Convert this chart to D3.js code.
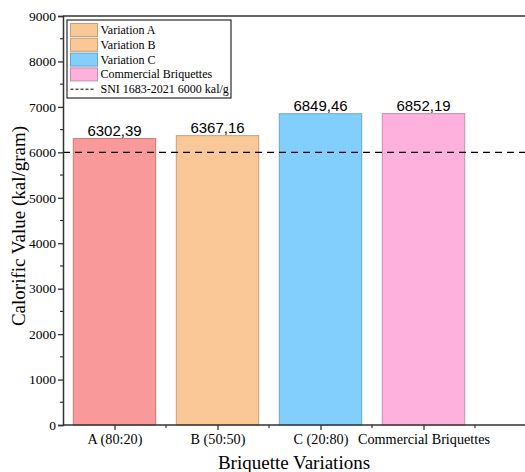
<!DOCTYPE html>
<html>
<head>
<meta charset="utf-8">
<script src="https://cdn.jsdelivr.net/npm/d3@7"></script>
<style>
  body { margin: 0; background: #fff; }
  svg { display: block; }
</style>
</head>
<body>
<figure id="bar" style="margin:0"></figure>
<script>
// chart data
const categories = ["A (80:20)", "B (50:50)", "C (20:80)", "Commercial Briquettes"];
const values = [6302.39, 6367.16, 6849.46, 6852.19];
const valueLabels = ["6302,39", "6367,16", "6849,46", "6852,19"];
const fills = ["#f99999", "#f9c896", "#82cffd", "#fdb1dc"];
const strokes = ["#c67a7a", "#c9a07a", "#6aa6cc", "#c98bae"];
const legendNames = ["Variation A", "Variation B", "Variation C", "Commercial Briquettes"];
const legendFills = ["#f9c896", "#f9c896", "#82cffd", "#fdb1dc"];
const legendStrokes = ["#c9a07a", "#c9a07a", "#6aa6cc", "#c98bae"];
const yTicks = [0, 1000, 2000, 3000, 4000, 5000, 6000, 7000, 8000, 9000];
const sniValue = 6000;
const sniLabel = "SNI 1683-2021 6000 kal/g";

const W = 525, H = 472;
const plotLeft = 63, plotTop = 16, plotBottom = 425;
const serif = "'Liberation Serif', 'Times New Roman', serif";

const svg = d3.select("figure#bar")
  .append("svg")
  .attr("width", W)
  .attr("height", H);

// x: category index positions, plot runs past the right edge
const x = d3.scaleLinear().domain([0.5, 5.5]).range([plotLeft, plotLeft + 5 * 103]);
const y = d3.scaleLinear().domain([0, 9000]).range([plotBottom, plotTop]);
const barW = 0.8 * (x(2) - x(1));

// bars
svg.selectAll("rect.bar")
  .data(values)
  .enter()
  .append("rect")
  .attr("class", "bar")
  .attr("x", (d, i) => x(i + 1) - barW / 2)
  .attr("y", d => y(d))
  .attr("width", barW)
  .attr("height", d => plotBottom - y(d))
  .attr("fill", (d, i) => fills[i])
  .attr("stroke", (d, i) => strokes[i])
  .attr("stroke-width", 1);

// value labels
svg.selectAll("text.val")
  .data(values)
  .enter()
  .append("text")
  .attr("class", "val")
  .attr("x", (d, i) => x(i + 1))
  .attr("y", d => y(d) - 3)
  .attr("text-anchor", "middle")
  .style("font-family", "'Liberation Sans', Arial, sans-serif")
  .style("font-size", "15px")
  .text((d, i) => valueLabels[i]);

// SNI reference line
svg.append("line")
  .attr("x1", plotLeft).attr("x2", W)
  .attr("y1", y(sniValue)).attr("y2", y(sniValue))
  .attr("stroke", "#000")
  .attr("stroke-width", 1.1)
  .attr("stroke-dasharray", "7,5");

// y axis
const yAxis = svg.append("g")
  .attr("transform", "translate(" + plotLeft + ",0)")
  .call(d3.axisLeft(y).tickValues(yTicks).tickSize(5).tickPadding(2).tickFormat(d3.format("d")));
yAxis.selectAll("text")
  .style("font-family", serif)
  .style("font-size", "13.5px")
  .attr("fill", "#000");
yAxis.select(".domain").attr("stroke", "#333").attr("stroke-width", 1.5);
yAxis.selectAll(".tick line").attr("stroke", "#333").attr("stroke-width", 1.3);
// minor y ticks
svg.selectAll("line.ymin")
  .data(d3.range(500, 9000, 1000))
  .enter()
  .append("line")
  .attr("x1", plotLeft - 3).attr("x2", plotLeft)
  .attr("y1", d => y(d)).attr("y2", d => y(d))
  .attr("stroke", "#333").attr("stroke-width", 1.2);

// x axis
const xAxis = svg.append("g")
  .attr("transform", "translate(0," + plotBottom + ")")
  .call(d3.axisBottom(x).tickValues([1, 2, 3, 4]).tickSize(5).tickPadding(4)
    .tickFormat((d, i) => categories[i]));
xAxis.selectAll("text")
  .style("font-family", serif)
  .style("font-size", "14.2px")
  .attr("fill", "#000");
xAxis.select(".domain").remove();
xAxis.selectAll(".tick line").attr("stroke", "#333").attr("stroke-width", 1.3);
svg.append("line")
  .attr("x1", plotLeft).attr("x2", W)
  .attr("y1", plotBottom).attr("y2", plotBottom)
  .attr("stroke", "#333").attr("stroke-width", 1.5);
// minor x ticks
svg.selectAll("line.xmin")
  .data([1.5, 2.5, 3.5, 4.5])
  .enter()
  .append("line")
  .attr("x1", d => x(d)).attr("x2", d => x(d))
  .attr("y1", plotBottom).attr("y2", plotBottom + 3)
  .attr("stroke", "#333").attr("stroke-width", 1.2);

// top frame
svg.append("line")
  .attr("x1", plotLeft).attr("x2", W)
  .attr("y1", plotTop).attr("y2", plotTop)
  .attr("stroke", "#333").attr("stroke-width", 1.5);

// axis titles
svg.append("text")
  .attr("x", (plotLeft + W) / 2)
  .attr("y", 469)
  .attr("text-anchor", "middle")
  .style("font-family", serif)
  .style("font-size", "19px")
  .text("Briquette Variations");

svg.append("text")
  .attr("transform", "translate(25,226)rotate(-90)")
  .attr("text-anchor", "middle")
  .style("font-family", serif)
  .style("font-size", "19px")
  .text("Calorific Value (kal/gram)");

// legend
const lg = svg.append("g").attr("transform", "translate(67,20)");
lg.append("rect")
  .attr("width", 164).attr("height", 78)
  .attr("fill", "#fff").attr("stroke", "#000").attr("stroke-width", 1);
const rowH = 14.8;
legendNames.forEach((name, i) => {
  lg.append("rect")
    .attr("x", 3.5).attr("y", 3.5 + i * rowH)
    .attr("width", 27).attr("height", 13)
    .attr("fill", legendFills[i]).attr("stroke", legendStrokes[i]);
  lg.append("text")
    .attr("x", 33.5).attr("y", 3.5 + i * rowH + 10.5)
    .style("font-family", serif)
    .style("font-size", "12px")
    .text(name);
});
lg.append("line")
  .attr("x1", 3.5).attr("x2", 27)
  .attr("y1", 3.5 + 4 * rowH + 6.5).attr("y2", 3.5 + 4 * rowH + 6.5)
  .attr("stroke", "#000").attr("stroke-dasharray", "3,2");
lg.append("text")
  .attr("x", 33.5).attr("y", 3.5 + 4 * rowH + 10.5)
  .style("font-family", serif)
  .style("font-size", "12px")
  .text(sniLabel);
</script>
</body>
</html>
